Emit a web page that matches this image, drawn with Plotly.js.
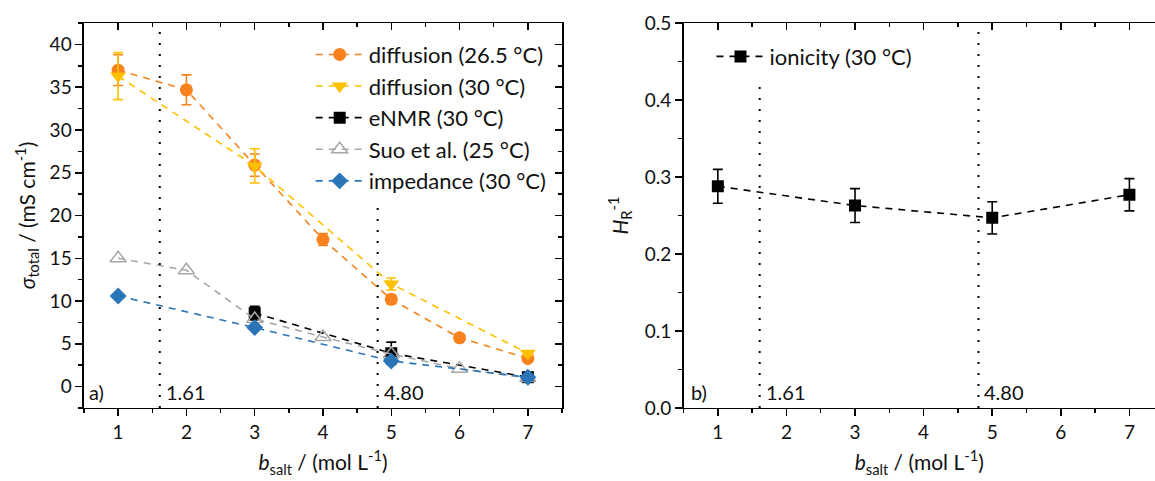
<!DOCTYPE html>
<html>
<head>
<meta charset="utf-8">
<script src="https://cdn.plot.ly/plotly-3.0.1.min.js"></script>
<style>html,body{margin:0;padding:0;background:#fff;}#chart{width:1155px;height:481px;}</style>
</head>
<body>
<div id="chart"></div>
<script>
// ---- data ----
const bAll = [1, 2, 3, 4, 5, 6, 7];
const bOdd = [1, 3, 5, 7];
const bEnmr = [3, 5, 7];
const diff265 = [37.0, 34.7, 25.9, 17.2, 10.2, 5.7, 3.3];
const diff265Err = [1.8, 1.75, 1.3, 0.7, 0.5, 0.3, 0.3];
const diff30 = [36.3, 25.8, 12.0, 3.9];
const diff30Err = [2.75, 2.0, 0.7, 0.3];
const enmr = [8.6, 3.9, 1.1];
const enmrErr = [0.8, 1.3, 0.3];
const suo = [15.0, 13.6, 7.9, 5.8, 3.8, 2.1, 1.0];
const impedance = [10.6, 6.9, 3.0, 1.1];
const ionicity = [0.288, 0.263, 0.247, 0.277];
const ionicityErr = [0.022, 0.022, 0.021, 0.021];
const thresholds = [1.61, 4.80];
const thresholdLabels = ['1.61', '4.80'];
const names = ['diffusion (26.5 °C)', 'diffusion (30 °C)', 'eNMR (30 °C)', 'Suo et al. (25 °C)', 'impedance (30 °C)', 'ionicity (30 °C)'];

const FONT = 'Lato, "Open Sans", sans-serif';
const ORANGE = '#F7821E', YELLOW = '#FFC000', BLUE = '#2A74B8', GRAY = '#A6A6A6', BLACK = '#000000';
const DASH = '7px,6px';
const TXT = '#111';

function series(x, y, err, color, symbol, size, name, group, extra) {
  const t = {
    type: 'scatter', mode: 'lines+markers', x: x, y: y, name: name, legendgroup: group,
    line: {color: color, width: 1.6, dash: DASH},
    marker: {color: color, symbol: symbol, size: size},
    hoverinfo: 'skip'
  };
  if (err) t.error_y = {type: 'data', array: err, visible: true, color: color, thickness: 1.6, width: 5};
  return Object.assign(t, extra || {});
}

const traces = [
  series(bAll, diff265, diff265Err, ORANGE, 'circle', 13, names[0], 'g1'),
  series(bOdd, diff30, diff30Err, YELLOW, 'triangle-down', 14, names[1], 'g2'),
  series(bEnmr, enmr, enmrErr, BLACK, 'square', 12, names[2], 'g3'),
  series(bAll, suo, null, GRAY, 'triangle-up-open', 14, names[3], 'g4', {marker: {color: GRAY, symbol: 'triangle-up-open', size: 14, line: {width: 1.5, color: GRAY}}}),
  series(bOdd, impedance, null, BLUE, 'diamond', 13, names[4], 'g5'),
  series(bOdd, ionicity, ionicityErr, BLACK, 'square', 12, names[5], 'g6', {xaxis: 'x2', yaxis: 'y2', legend: 'legend2'}),
  // empty traces so mirror axes get drawn
  {type: 'scatter', x: [], y: [], xaxis: 'x3', yaxis: 'y', showlegend: false, hoverinfo: 'skip'},
  {type: 'scatter', x: [], y: [], xaxis: 'x', yaxis: 'y3', showlegend: false, hoverinfo: 'skip'},
  {type: 'scatter', x: [], y: [], xaxis: 'x4', yaxis: 'y2', showlegend: false, hoverinfo: 'skip'}
];

const tickFont = {family: FONT, size: 19, color: TXT};
const xLeftRange = [0.5, 7.5];
const yLeftRange = [-2.5, 42.5];
const xRightRange = [0.5, 7.373];
const yRightRange = [0, 0.5];
const domL = [0.0727, 0.4866];
const domR = [0.5918, 1.0];
const domY = [0.1518, 0.952];

function baseAxis(extra) {
  return Object.assign({
    showline: true, linecolor: '#000', linewidth: 1.5, mirror: false,
    ticks: 'outside', ticklen: 7, tickwidth: 1.5, tickcolor: '#000',
    showgrid: false, zeroline: false, tickfont: tickFont, fixedrange: true, automargin: false
  }, extra);
}
function minor(d, dir) {
  return {dtick: d, tick0: 0, ticks: dir, ticklen: 4, tickwidth: 1.5, tickcolor: '#000'};
}

const titleFont = {family: FONT, size: 21, color: TXT};
const xTitle = {text: '<i>b</i><sub>salt</sub> / (mol L<sup>-1</sup>)', font: titleFont, standoff: 13};
const annFont = {family: FONT, size: 20, color: TXT};

const layout = {
  width: 1155, height: 481,
  margin: {l: 0, r: 0, t: 0, b: 0},
  paper_bgcolor: '#fff', plot_bgcolor: 'rgba(0,0,0,0)',
  font: {family: FONT, color: TXT},
  xaxis: baseAxis({domain: domL, range: xLeftRange, anchor: 'y', dtick: 1, tick0: 0, minor: minor(0.5, 'outside'), title: xTitle}),
  yaxis: baseAxis({domain: domY, range: yLeftRange, anchor: 'x', dtick: 5, tick0: 0, minor: minor(2.5, 'outside'),
    title: {text: '<i>σ</i><sub>total</sub> / (mS cm<sup>-1</sup>)', font: titleFont, standoff: 8}}),
  xaxis3: baseAxis({overlaying: 'x', side: 'top', anchor: 'y', range: xLeftRange, dtick: 1, tick0: 0,
    ticks: 'inside', showticklabels: false, minor: minor(0.5, 'inside')}),
  yaxis3: baseAxis({overlaying: 'y', side: 'right', anchor: 'x', range: yLeftRange, dtick: 5, tick0: 0,
    ticks: 'inside', showticklabels: false, minor: minor(2.5, 'inside')}),
  xaxis2: baseAxis({domain: domR, range: xRightRange, anchor: 'y2', dtick: 1, tick0: 0, minor: minor(0.5, 'outside'), title: xTitle}),
  yaxis2: baseAxis({domain: domY, range: yRightRange, anchor: 'x2', dtick: 0.1, tick0: 0, tickformat: '.1f', minor: minor(0.05, 'outside'),
    title: {text: '<i>H</i><sub>R</sub><sup>-1</sup>', font: titleFont, standoff: 10}}),
  xaxis4: baseAxis({overlaying: 'x2', side: 'top', anchor: 'y2', range: xRightRange, dtick: 1, tick0: 0,
    ticks: 'inside', showticklabels: false, minor: minor(0.5, 'inside')}),
  showlegend: true,
  legend: {x: 0.269, y: 0.93, xanchor: 'left', yanchor: 'top', bgcolor: 'rgba(0,0,0,0)',
    font: {family: FONT, size: 22, color: TXT}, itemwidth: 48, tracegroupgap: 0, traceorder: 'grouped'},
  legend2: {x: 0.616, y: 0.926, xanchor: 'left', yanchor: 'top', bgcolor: 'rgba(0,0,0,0)',
    font: {family: FONT, size: 22, color: TXT}, itemwidth: 48},
  shapes: [
    {type: 'line', xref: 'x', yref: 'y', x0: thresholds[0], x1: thresholds[0], y0: yLeftRange[0], y1: yLeftRange[1], line: {color: '#000', width: 2, dash: '2px,9px'}},
    {type: 'line', xref: 'x', yref: 'y', x0: thresholds[1], x1: thresholds[1], y0: yLeftRange[0], y1: 21.4, line: {color: '#000', width: 2, dash: '2px,9px'}},
    {type: 'line', xref: 'x2', yref: 'y2', x0: thresholds[0], x1: thresholds[0], y0: yRightRange[0], y1: 0.42, line: {color: '#000', width: 2, dash: '2px,9px'}},
    {type: 'line', xref: 'x2', yref: 'y2', x0: thresholds[1], x1: thresholds[1], y0: yRightRange[0], y1: yRightRange[1], line: {color: '#000', width: 2, dash: '2px,9px'}}
  ],
  annotations: [
    {xref: 'x', yref: 'y', x: thresholds[0], y: -0.6, text: thresholdLabels[0], showarrow: false, xanchor: 'left', yanchor: 'middle', xshift: 4, font: annFont},
    {xref: 'x', yref: 'y', x: thresholds[1], y: -0.6, text: thresholdLabels[1], showarrow: false, xanchor: 'left', yanchor: 'middle', xshift: 4, font: annFont},
    {xref: 'x2', yref: 'y2', x: thresholds[0], y: 0.021, text: thresholdLabels[0], showarrow: false, xanchor: 'left', yanchor: 'middle', xshift: 4, font: annFont},
    {xref: 'x2', yref: 'y2', x: thresholds[1], y: 0.021, text: thresholdLabels[1], showarrow: false, xanchor: 'left', yanchor: 'middle', xshift: 4, font: annFont},
    {xref: 'x domain', yref: 'y', x: 0, y: -0.6, text: 'a)', showarrow: false, xanchor: 'left', yanchor: 'middle', xshift: 3, font: annFont},
    {xref: 'x2 domain', yref: 'y2', x: 0, y: 0.021, text: 'b)', showarrow: false, xanchor: 'left', yanchor: 'middle', xshift: 5, font: annFont}
  ]
};

Plotly.newPlot('chart', traces, layout, {staticPlot: true, displayModeBar: false});
</script>
</body>
</html>
